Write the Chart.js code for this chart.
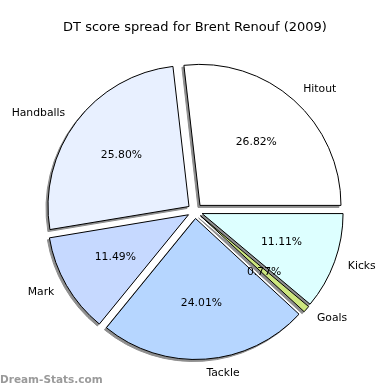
<!DOCTYPE html>
<html>
<head>
<meta charset="utf-8">
<script src="https://cdn.jsdelivr.net/npm/chart.js@4/dist/chart.umd.min.js"></script>
<style>
  html, body { margin: 0; padding: 0; background: #fff; }
  #wrap { position: relative; width: 390px; height: 390px; }
</style>
</head>
<body>
<div id="wrap"><canvas id="chart-area" width="390" height="390"></canvas></div>
<script>
// slices listed clockwise from 3 o'clock (matplotlib drew them counter-clockwise)
var categories = ['Kicks', 'Goals', 'Tackle', 'Mark', 'Handballs', 'Hitout'];
var shares = [11.11, 0.77, 24.01, 11.49, 25.80, 26.82];
var sliceColors = ['#ddffff', '#cde67f', '#b6d6ff', '#c6d9ff', '#e8f0ff', '#ffffff'];

var explodePx = 7.5;
var shadowDx = -2, shadowDy = 2;
var font = "'DejaVu Sans', sans-serif";

var midAngle = function(arc) {
    return (arc.startAngle + arc.endAngle) / 2;
};

var explodedPie = {
    id: 'explodedPie',
    beforeDatasetDraw: function(chart, args) {
        var ctx = chart.ctx,
            arcs = args.meta.data;

        // shadows under everything, drawn from far off-canvas so only the shadow lands
        arcs.forEach(function(arc) {
            var a = midAngle(arc);
            ctx.save();
            ctx.translate(Math.cos(a) * explodePx - 2000, Math.sin(a) * explodePx);
            ctx.shadowColor = '#8e8e8e';
            ctx.shadowBlur = 0;
            ctx.shadowOffsetX = 2000 + shadowDx;
            ctx.shadowOffsetY = shadowDy;
            arc.draw(ctx);
            ctx.restore();
        });

        arcs.forEach(function(arc) {
            var a = midAngle(arc);
            ctx.save();
            ctx.translate(Math.cos(a) * explodePx, Math.sin(a) * explodePx);
            arc.draw(ctx);
            ctx.restore();
        });
        return false;
    },
    afterDatasetsDraw: function(chart) {
        var ctx = chart.ctx,
            meta = chart.getDatasetMeta(0);

        ctx.save();
        ctx.fillStyle = '#000';
        ctx.font = '10.8px ' + font;
        ctx.textBaseline = 'middle';
        meta.data.forEach(function(arc, i) {
            var a = midAngle(arc),
                r = arc.outerRadius,
                cx = arc.x + Math.cos(a) * explodePx,
                cy = arc.y + Math.sin(a) * explodePx;

            ctx.textAlign = 'center';
            ctx.fillText(shares[i].toFixed(2) + '%', cx + Math.cos(a) * r * 0.6, cy + Math.sin(a) * r * 0.6);

            ctx.textAlign = Math.cos(a) >= 0 ? 'left' : 'right';
            ctx.fillText(categories[i], cx + Math.cos(a) * r * 1.1, cy + Math.sin(a) * r * 1.1);
        });

        // site watermark
        ctx.fillStyle = '#9a9a9a';
        ctx.font = 'bold 10.5px ' + font;
        ctx.textAlign = 'left';
        ctx.fillText('Dream-Stats.com', 0, 380);
        ctx.restore();
    }
};

var config = {
    type: 'pie',
    data: {
        labels: categories,
        datasets: [{
            data: shares,
            backgroundColor: sliceColors,
            borderColor: '#000',
            borderWidth: 1
        }]
    },
    options: {
        responsive: false,
        animation: false,
        rotation: 90,
        radius: 141,
        layout: { padding: { left: 20, right: 20, top: 0, bottom: 18.6 } },
        plugins: {
            legend: { display: false },
            tooltip: { enabled: false },
            title: {
                display: true,
                text: 'DT score spread for Brent Renouf (2009)',
                color: '#000',
                font: { family: font, size: 13, weight: 'normal' },
                padding: { top: 20, bottom: 15 }
            }
        }
    },
    plugins: [explodedPie]
};

var ctx = document.getElementById('chart-area').getContext('2d');
window.myPie = new Chart(ctx, config);
</script>
</body>
</html>
